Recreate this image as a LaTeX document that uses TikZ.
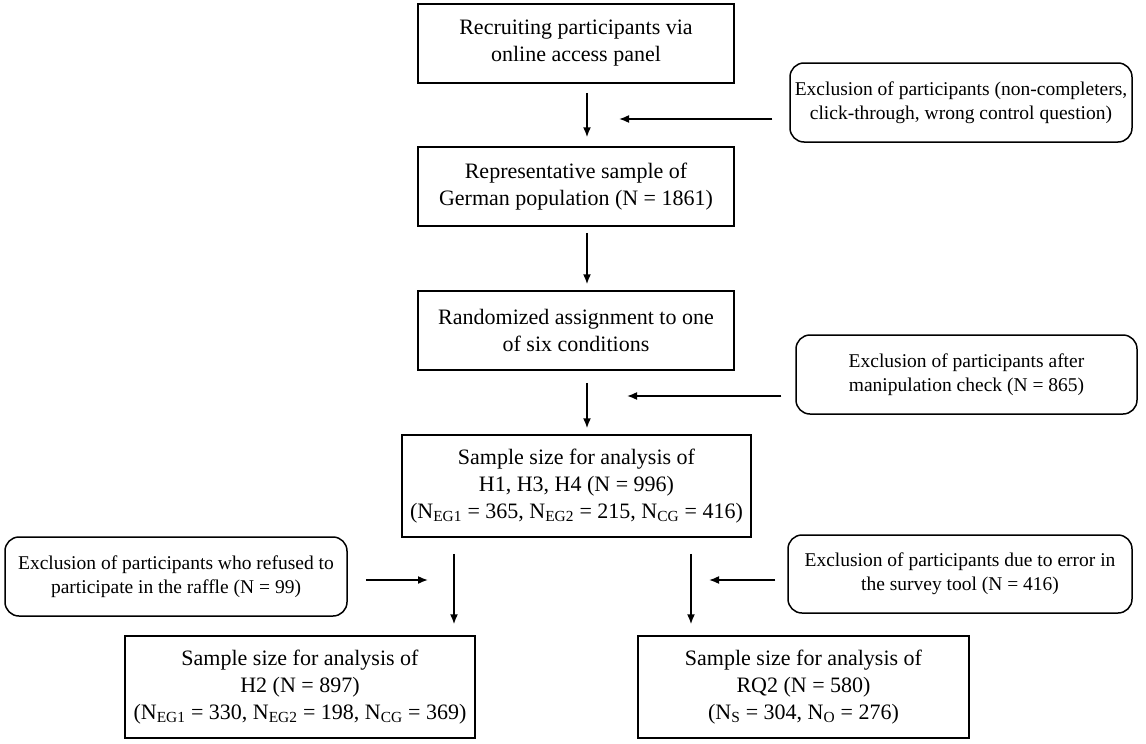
\documentclass[tikz,border=0pt]{standalone}
\usepackage{fontspec}
\setmainfont{Liberation Serif}
\usetikzlibrary{arrows.meta}
\begin{document}
\begin{tikzpicture}[x=1pt,y=-1pt,
  mainbox/.style={draw,line width=1.5pt,inner sep=0pt,align=center,
    font=\fontsize{22}{27}\selectfont},
  exclbox/.style={draw,line width=1.5pt,rounded corners=14pt,inner sep=0pt,align=center,
    font=\fontsize{19.5}{24}\selectfont},
  flow/.style={line width=1.6pt,-{Latex[length=10pt,width=8pt]}}]
\useasboundingbox (0,0) rectangle (1146,744);
\node[mainbox,minimum width=316pt,minimum height=79pt] (b1) at (576,43.5)
  {Recruiting participants via\\online access panel};
\node[mainbox,minimum width=316pt,minimum height=79pt] (b2) at (576,186.5)
  {Representative sample of\\German population (N = 1861)};
\node[mainbox,minimum width=316pt,minimum height=79pt] (b3) at (576,330.5)
  {Randomized assignment to one\\of six conditions};
\node[mainbox,minimum width=349pt,minimum height=102pt] (b4) at (576.5,486)
  {Sample size for analysis of\\H1, H3, H4 (N = 996)\\(N\textsubscript{EG1} = 365, N\textsubscript{EG2} = 215, N\textsubscript{CG} = 416)};
\node[mainbox,minimum width=350pt,minimum height=102pt] (b5) at (300,687)
  {Sample size for analysis of\\H2 (N = 897)\\(N\textsubscript{EG1} = 330, N\textsubscript{EG2} = 198, N\textsubscript{CG} = 369)};
\node[mainbox,minimum width=331pt,minimum height=102pt] (b6) at (803.5,687)
  {Sample size for analysis of\\RQ2 (N = 580)\\(N\textsubscript{S} = 304, N\textsubscript{O} = 276)};
\node[exclbox,minimum width=342pt,minimum height=79pt] (e1) at (961,102.5)
  {Exclusion of participants (non-completers,\\click-through, wrong control question)};
\node[exclbox,minimum width=341pt,minimum height=79pt] (e2) at (966.5,374.5)
  {Exclusion of participants after\\manipulation check (N = 865)};
\node[exclbox,minimum width=342pt,minimum height=79pt] (e3) at (176,576.5)
  {Exclusion of participants who refused to\\participate in the raffle (N = 99)};
\node[exclbox,minimum width=344pt,minimum height=78pt] (e4) at (960,574)
  {Exclusion of participants due to error in\\the survey tool (N = 416)};
% vertical flow
\draw[flow,shorten <=9pt,shorten >=9pt] ([xshift=11pt]b1.south) -- ([xshift=11pt]b2.north);
\draw[flow,shorten <=6pt,shorten >=6pt] ([xshift=11pt]b2.south) -- ([xshift=11pt]b3.north);
\draw[flow,shorten <=12pt,shorten >=6pt] ([xshift=11pt]b3.south) -- ([xshift=10.5pt]b4.north);
\draw[flow,shorten <=16pt,shorten >=11pt] ([xshift=-122.5pt]b4.south) -- ([xshift=154pt]b5.north);
\draw[flow,shorten <=16pt,shorten >=11pt] ([xshift=114.5pt]b4.south) -- ([xshift=-112.5pt]b6.north);
% exclusion arrows
\coordinate (t1) at (619,119);
\coordinate (t2) at (627,396);
\coordinate (t3) at (428,580);
\coordinate (t4) at (709,580);
\draw[flow,shorten <=17pt] (e1.west |- t1) -- (t1);
\draw[flow,shorten <=14pt] (e2.west |- t2) -- (t2);
\draw[flow,shorten <=18pt] (e3.east |- t3) -- (t3);
\draw[flow,shorten <=12pt] (e4.west |- t4) -- (t4);
\end{tikzpicture}
\end{document}
